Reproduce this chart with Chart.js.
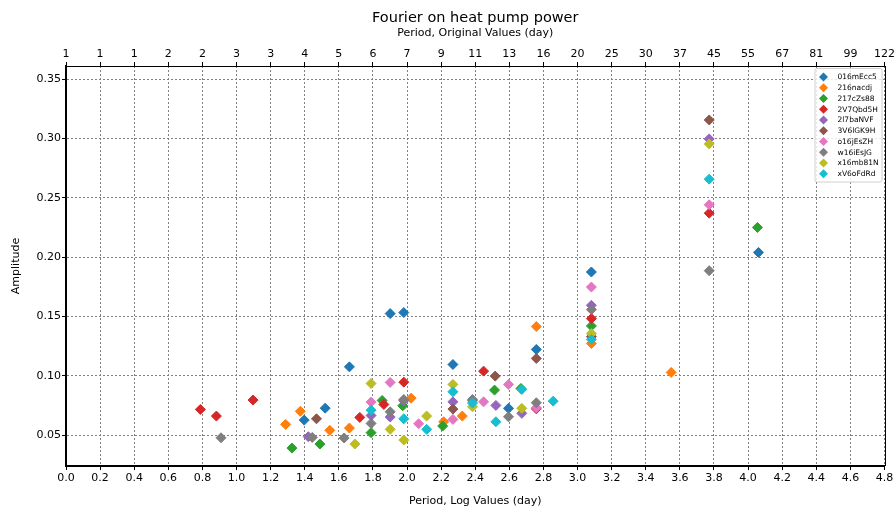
<!DOCTYPE html>
<html>
<head>
<meta charset="utf-8">
<script src="https://cdn.jsdelivr.net/npm/chart.js@4.4.1/dist/chart.umd.min.js"></script>
<style>
  html, body { margin: 0; padding: 0; background: #fff; }
  #wrap { width: 896px; height: 508px; }
</style>
</head>
<body>
<div id="wrap"><canvas id="fourierChart" width="896" height="508"></canvas></div>
<script>
// ---- data (x = log period, y = amplitude) ----
const seriesNames = ['016mEcc5', '216nacdj', '217cZs88', '2V7Qbd5H', '2l7baNVF',
  '3V6lGK9H', 'o16jEsZH', 'w16iEsJG', 'x16mb81N', 'xV6oFdRd'];
const seriesColors = ['#1f77b4', '#ff7f0e', '#2ca02c', '#d62728', '#9467bd',
  '#8c564b', '#e377c2', '#7f7f7f', '#bcbd22', '#17becf'];

const pts016mEcc5 = [[1.397, 0.0626], [1.520, 0.0727], [1.662, 0.1075], [1.901, 0.1524], [1.981, 0.1533],
  [2.269, 0.1095], [2.595, 0.0725], [2.758, 0.1222], [3.081, 0.1875], [4.061, 0.2040]];
const pts216nacdj = [[1.288, 0.0590], [1.374, 0.0700], [1.547, 0.0540], [1.662, 0.0559], [2.024, 0.0811],
  [2.215, 0.0612], [2.324, 0.0660], [2.758, 0.1415], [3.081, 0.1272], [3.549, 0.1028]];
const pts217cZs88 = [[1.325, 0.0390], [1.489, 0.0424], [1.789, 0.0520], [1.854, 0.0792], [1.975, 0.0747],
  [2.209, 0.0576], [2.513, 0.0879], [2.668, 0.0893], [3.081, 0.1420], [4.055, 0.2251]];
const pts2V7Qbd5H = [[0.788, 0.0716], [0.882, 0.0660], [1.097, 0.0795], [1.723, 0.0649], [1.864, 0.0758],
  [1.981, 0.0946], [2.449, 0.1039], [2.758, 0.0721], [3.081, 0.1482], [3.772, 0.2371]];
const pts2l7baNVF = [[1.421, 0.0486], [1.789, 0.0665], [1.901, 0.0652], [1.981, 0.0790], [2.269, 0.0780],
  [2.384, 0.0790], [2.521, 0.0750], [2.673, 0.0683], [3.081, 0.1594], [3.772, 0.2997]];
const pts3V6lGK9H = [[1.469, 0.0637], [2.269, 0.0719], [2.517, 0.0997], [2.758, 0.1146], [3.081, 0.1330],
  [3.772, 0.3157]];
const ptso16jEsZH = [[1.789, 0.0778], [1.901, 0.0944], [2.068, 0.0595], [2.269, 0.0632], [2.449, 0.0780],
  [2.595, 0.0927], [2.758, 0.0730], [3.081, 0.1748], [3.772, 0.2442]];
const ptsw16iEsJG = [[0.909, 0.0477], [1.444, 0.0480], [1.631, 0.0475], [1.789, 0.0598], [1.901, 0.0696],
  [1.981, 0.0800], [2.384, 0.0800], [2.595, 0.0654], [2.758, 0.0772], [3.081, 0.1558], [3.772, 0.1886]];
const ptsx16mb81N = [[1.694, 0.0424], [1.789, 0.0935], [1.901, 0.0548], [1.981, 0.0458], [2.115, 0.0660],
  [2.269, 0.0927], [2.384, 0.0738], [2.673, 0.0725], [3.081, 0.1356], [3.772, 0.2955]];
const ptsxV6oFdRd = [[1.789, 0.0710], [1.981, 0.0637], [2.115, 0.0548], [2.269, 0.0865], [2.384, 0.0770],
  [2.521, 0.0612], [2.673, 0.0885], [2.857, 0.0786], [3.081, 0.1306], [3.772, 0.2658]];

const allPoints = [pts016mEcc5, pts216nacdj, pts217cZs88, pts2V7Qbd5H, pts2l7baNVF,
  pts3V6lGK9H, ptso16jEsZH, ptsw16iEsJG, ptsx16mb81N, ptsxV6oFdRd];

// tick labels
const bottomTickLabels = ['0.0', '0.2', '0.4', '0.6', '0.8', '1.0', '1.2', '1.4', '1.6', '1.8', '2.0', '2.2',
  '2.4', '2.6', '2.8', '3.0', '3.2', '3.4', '3.6', '3.8', '4.0', '4.2', '4.4', '4.6', '4.8'];
const topTickLabels = ['1', '1', '1', '2', '2', '3', '3', '4', '5', '6', '7', '9', '11', '13', '16', '20',
  '25', '30', '37', '45', '55', '67', '81', '99', '122'];
const yTickLabels = ['0.05', '0.10', '0.15', '0.20', '0.25', '0.30', '0.35'];

const FONT = "'DejaVu Sans', sans-serif";

// legend drawn inside the plot, top right (matplotlib style)
const insideLegend = {
  id: 'insideLegend',
  afterDraw(chart) {
    const { ctx, chartArea } = chart;
    const ds = chart.data.datasets;
    const rowH = 10.75;
    const boxW = 67, boxH = ds.length * rowH + 6;
    const x0 = chartArea.right - boxW - 3;
    const y0 = chartArea.top + 2;

    ctx.save();
    // right spine (thin)
    ctx.strokeStyle = '#000';
    ctx.lineWidth = 1;
    ctx.beginPath();
    ctx.moveTo(Math.round(chartArea.right) + 0.5, chartArea.top);
    ctx.lineTo(Math.round(chartArea.right) + 0.5, chartArea.bottom);
    ctx.stroke();

    ctx.fillStyle = 'rgba(255,255,255,0.8)';
    ctx.strokeStyle = '#d0d0d0';
    ctx.beginPath();
    ctx.roundRect(x0 + 0.5, y0 + 0.5, boxW, boxH, 2);
    ctx.fill();
    ctx.stroke();

    ctx.font = '7.5px ' + FONT;
    ctx.textBaseline = 'middle';
    ds.forEach((d, i) => {
      const cy = y0 + 3.5 + rowH * (i + 0.5);
      const cx = x0 + 9;
      const r = 4.5;
      ctx.fillStyle = d.backgroundColor;
      ctx.beginPath();
      ctx.moveTo(cx, cy - r);
      ctx.lineTo(cx + r, cy);
      ctx.lineTo(cx, cy + r);
      ctx.lineTo(cx - r, cy);
      ctx.closePath();
      ctx.fill();
      ctx.fillStyle = '#000';
      ctx.fillText(d.label, x0 + 23, cy + 0.5);
    });
    ctx.restore();
  }
};

const datasets = seriesNames.map((name, i) => ({
  label: name,
  data: allPoints[i].map(p => ({ x: p[0], y: p[1] })),
  backgroundColor: seriesColors[i],
  borderColor: seriesColors[i],
  borderWidth: 1,
  pointStyle: 'rectRot',
  pointRadius: 5,
  pointHoverRadius: 5,
  order: seriesNames.length - i
}));

const gridDash = [2, 2];

new Chart(document.getElementById('fourierChart'), {
  type: 'scatter',
  data: { datasets },
  plugins: [insideLegend],
  options: {
    responsive: false,
    animation: false,
    layout: { padding: { left: 0, right: 10, top: 0, bottom: 0 } },
    plugins: {
      legend: { display: false },
      tooltip: { enabled: false },
      title: {
        display: true,
        fullSize: false,
        text: 'Fourier on heat pump power',
        color: '#000',
        font: { family: FONT, size: 14.5, weight: 'normal', lineHeight: 1.2 },
        padding: { top: 10, bottom: 0 }
      }
    },
    scales: {
      x: {
        type: 'linear',
        position: 'bottom',
        min: 0,
        max: 4.8,
        afterFit: (s) => { s.height = 42; },
        ticks: {
          stepSize: 0.2,
          autoSkip: false,
          maxRotation: 0,
          includeBounds: false,
          padding: 1.5,
          color: '#000',
          font: { family: FONT, size: 11 },
          callback: (v, i) => bottomTickLabels[i]
        },
        grid: {
          color: '#808080',
          lineWidth: 1,
          tickColor: '#000',
          tickLength: 4,
          tickBorderDash: []
        },
        border: { color: '#000', width: 2, dash: gridDash },
        title: {
          display: true,
          text: 'Period, Log Values (day)',
          color: '#000',
          font: { family: FONT, size: 11, lineHeight: 1 },
          padding: { top: 0, bottom: 1.5 }
        }
      },
      x2: {
        type: 'linear',
        position: 'top',
        min: 0,
        max: 4.8,
        afterFit: (s) => { s.height = 38.6; },
        ticks: {
          stepSize: 0.2,
          autoSkip: false,
          maxRotation: 0,
          includeBounds: false,
          padding: 1,
          color: '#000',
          font: { family: FONT, size: 11 },
          callback: (v, i) => topTickLabels[i]
        },
        grid: {
          drawOnChartArea: false,
          tickColor: '#000',
          tickLength: 4
        },
        border: { color: '#000', width: 1 },
        title: {
          display: true,
          text: 'Period, Original Values (day)',
          color: '#000',
          font: { family: FONT, size: 11, lineHeight: 1 },
          padding: { top: 0, bottom: 0 }
        }
      },
      y: {
        type: 'linear',
        position: 'left',
        min: 0.0239,
        max: 0.3612,
        afterFit: (s) => { s.width = 66; },
        ticks: {
          stepSize: 0.05,
          includeBounds: false,
          padding: 1,
          color: '#000',
          font: { family: FONT, size: 11 },
          callback: (v, i) => yTickLabels[i]
        },
        grid: {
          color: '#808080',
          lineWidth: 1,
          tickColor: '#000',
          tickLength: 4,
          tickBorderDash: []
        },
        border: { color: '#000', width: 2, dash: gridDash },
        title: {
          display: true,
          text: 'Amplitude',
          color: '#000',
          font: { family: FONT, size: 11, lineHeight: 1 },
          padding: { top: 10.5, bottom: 0 }
        }
      }
    }
  }
});
</script>
</body>
</html>
